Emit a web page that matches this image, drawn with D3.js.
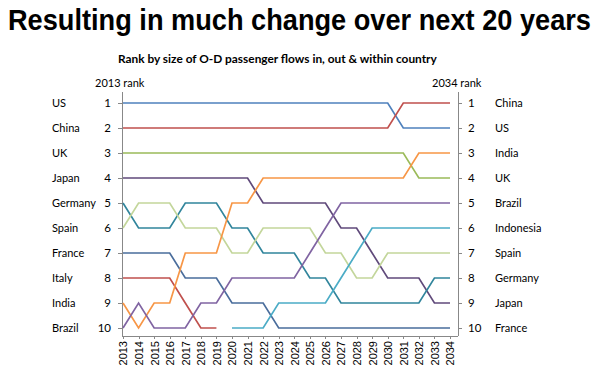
<!DOCTYPE html>
<html lang="en">
<head>
  <meta charset="UTF-8" />
  <title>Rank change chart</title>
  <style>
    body {
      margin: 0;
      background: #fff;
    }
    .title {
      font-family: "Liberation Sans", Arial, sans-serif;
      font-weight: bold;
      fill: #000;
    }
    .lbl {
      font-family: Lato, "Open Sans", sans-serif;
      fill: #000;
    }
    .axis path, .axis line {
      stroke: #888;
      shape-rendering: crispEdges;
    }
    .series {
      fill: none;
      stroke-width: 1.7px;
    }
  </style>
  <script src="https://d3js.org/d3.v7.min.js"></script>
</head>
<body>
  <svg id="chart" width="600" height="375"></svg>

  <script>
    // categories
    const years = [2013, 2014, 2015, 2016, 2017, 2018, 2019, 2020, 2021, 2022, 2023,
                   2024, 2025, 2026, 2027, 2028, 2029, 2030, 2031, 2032, 2033, 2034];
    const ranks = [1, 2, 3, 4, 5, 6, 7, 8, 9, 10];
    const startNames = ["US", "China", "UK", "Japan", "Germany", "Spain", "France", "Italy", "India", "Brazil"];
    const endNames = ["China", "US", "India", "UK", "Brazil", "Indonesia", "Spain", "Germany", "Japan", "France"];

    // rank per year, 2013..2034 (null = not in top 10)
    const us        = [1, 1, 1, 1, 1, 1, 1, 1, 1, 1, 1, 1, 1, 1, 1, 1, 1, 1, 2, 2, 2, 2];
    const china     = [2, 2, 2, 2, 2, 2, 2, 2, 2, 2, 2, 2, 2, 2, 2, 2, 2, 2, 1, 1, 1, 1];
    const uk        = [3, 3, 3, 3, 3, 3, 3, 3, 3, 3, 3, 3, 3, 3, 3, 3, 3, 3, 3, 4, 4, 4];
    const japan     = [4, 4, 4, 4, 4, 4, 4, 4, 4, 5, 5, 5, 5, 5, 6, 6, 7, 8, 8, 8, 9, 9];
    const germany   = [5, 6, 6, 6, 5, 5, 5, 6, 6, 7, 7, 7, 8, 8, 9, 9, 9, 9, 9, 9, 8, 8];
    const spain     = [6, 5, 5, 5, 6, 6, 6, 7, 7, 6, 6, 6, 6, 7, 7, 8, 8, 7, 7, 7, 7, 7];
    const france    = [7, 7, 7, 7, 8, 8, 8, 9, 9, 9, 10, 10, 10, 10, 10, 10, 10, 10, 10, 10, 10, 10];
    const italy     = [8, 8, 8, 8, 9, 10, 10, null, null, null, null, null, null, null, null, null, null, null, null, null, null, null];
    const india     = [9, 10, 9, 9, 7, 7, 7, 5, 5, 4, 4, 4, 4, 4, 4, 4, 4, 4, 4, 3, 3, 3];
    const brazil    = [10, 9, 10, 10, 10, 9, 9, 8, 8, 8, 8, 8, 7, 6, 5, 5, 5, 5, 5, 5, 5, 5];
    const indonesia = [null, null, null, null, null, null, null, 10, 10, 10, 9, 9, 9, 9, 8, 7, 6, 6, 6, 6, 6, 6];

    const series = [
      { name: "US", values: us },
      { name: "China", values: china },
      { name: "UK", values: uk },
      { name: "Japan", values: japan },
      { name: "Germany", values: germany },
      { name: "Spain", values: spain },
      { name: "France", values: france },
      { name: "Italy", values: italy },
      { name: "India", values: india },
      { name: "Brazil", values: brazil },
      { name: "Indonesia", values: indonesia }
    ];

    const colors = {
      US: "#4f81bd", China: "#c0504d", UK: "#9bbb59", Japan: "#604a7b",
      Germany: "#31859c", Spain: "#c3d69b", France: "#4a6d9c", Italy: "#c0504d",
      India: "#f79646", Brazil: "#8064a2", Indonesia: "#4bacc6"
    };

    const svg = d3.select("#chart");

    // scale a text's font size so it spans a given width
    function fitWidth(sel, target) {
      const w = sel.node().getComputedTextLength();
      const fs = parseFloat(sel.style("font-size"));
      sel.style("font-size", (fs * target / w) + "px");
    }

    // title is a bit condensed in the original: squeeze it horizontally
    const title = svg.append("text")
      .attr("class", "title")
      .style("font-size", "29.5px")
      .text("Resulting in much change over next 20 years");
    const tw = title.node().getComputedTextLength();
    title.attr("transform", `translate(8,30) scale(${583 / tw},1)`);

    const sub = svg.append("text")
      .attr("class", "lbl")
      .attr("x", 118)
      .attr("y", 63)
      .style("font-size", "11px")
      .style("font-weight", "bold")
      .text("Rank by size of O-D passenger flows in, out & within country");
    fitWidth(sub, 319);

    svg.append("text").attr("class", "lbl")
      .attr("x", 95).attr("y", 87)
      .style("font-size", "11px")
      .text("2013 rank");

    svg.append("text").attr("class", "lbl")
      .attr("x", 432).attr("y", 87)
      .style("font-size", "11px")
      .text("2034 rank");

    const plotL = 122, plotR = 458, plotT = 92, plotB = 336;

    const x = d3.scalePoint()
      .domain(years)
      .range([123, 450]);

    const y = d3.scaleLinear()
      .domain([1, 10])
      .range([103, 328]);

    // left axis
    const gl = svg.append("g")
      .attr("class", "axis")
      .attr("transform", `translate(${plotL},0)`)
      .call(d3.axisLeft(y).tickValues(ranks).tickSize(4).tickSizeOuter(0).tickFormat(""));
    gl.select(".domain").attr("d", `M0,${plotT}V${plotB}`);

    // right axis
    const gr = svg.append("g")
      .attr("class", "axis")
      .attr("transform", `translate(${plotR},0)`)
      .call(d3.axisRight(y).tickValues(ranks).tickSize(4).tickSizeOuter(0).tickFormat(""));
    gr.select(".domain").attr("d", `M0,${plotT}V${plotB}`);

    // bottom axis
    const gb = svg.append("g")
      .attr("class", "axis")
      .attr("transform", `translate(0,${plotB})`)
      .call(d3.axisBottom(x).tickSize(3).tickSizeOuter(0));
    gb.select(".domain").attr("d", `M${plotL},0H${plotR}`);
    gb.selectAll("text")
      .attr("class", "lbl")
      .style("font-family", "'Liberation Sans', Arial, sans-serif")
      .style("font-size", "11px")
      .attr("transform", "rotate(-90)")
      .attr("x", -5)
      .attr("y", 0)
      .attr("dy", "0.35em")
      .attr("text-anchor", "end");

    // rank numbers and country names
    svg.append("g").selectAll("text")
      .data(ranks)
      .join("text")
      .attr("class", "lbl")
      .attr("x", 111)
      .attr("y", d => y(d))
      .attr("dy", "0.35em")
      .attr("text-anchor", "end")
      .style("font-size", "11.5px")
      .text(d => d);

    svg.append("g").selectAll("text")
      .data(startNames)
      .join("text")
      .attr("class", "lbl")
      .attr("x", 52)
      .attr("y", (d, i) => y(ranks[i]))
      .attr("dy", "0.35em")
      .style("font-size", "11px")
      .text(d => d);

    svg.append("g").selectAll("text")
      .data(ranks)
      .join("text")
      .attr("class", "lbl")
      .attr("x", 468)
      .attr("y", d => y(d))
      .attr("dy", "0.35em")
      .style("font-size", "11.5px")
      .text(d => d);

    svg.append("g").selectAll("text")
      .data(endNames)
      .join("text")
      .attr("class", "lbl")
      .attr("x", 495)
      .attr("y", (d, i) => y(ranks[i]))
      .attr("dy", "0.35em")
      .style("font-size", "11px")
      .text(d => d);

    // lines
    const line = d3.line()
      .defined(d => d.r != null)
      .x(d => x(d.year))
      .y(d => y(d.r));

    svg.append("g").selectAll("path")
      .data(series)
      .join("path")
      .attr("class", "series")
      .attr("stroke", d => colors[d.name])
      .attr("d", d => line(d.values.map((r, i) => ({ year: years[i], r: r }))));
  </script>
</body>
</html>
